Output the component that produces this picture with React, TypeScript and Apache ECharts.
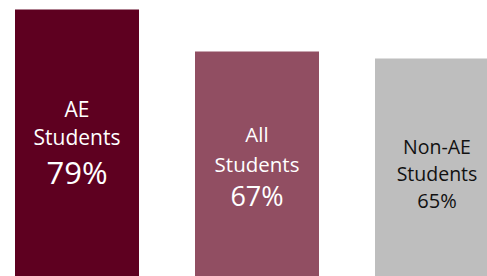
import React, { useEffect, useRef } from "react";
import * as echarts from "echarts";

const categories = ["AE\nStudents", "All\nStudents", "Non-AE\nStudents"];
const values = [79, 67, 65];
const barColors = ["#5E0020", "#914E62", "#BEBEBE"];
const textColors = ["#FFFFFF", "#FFFFFF", "#111111"];

// per-bar label styling
const labelStyles = [
  { nameSize: 21, nameLH: 28, valSize: 31, valLH: 42, offsetY: 134 },
  { nameSize: 20.5, nameLH: 30, valSize: 27, valLH: 33, offsetY: 114 },
  { nameSize: 19.5, nameLH: 27, valSize: 20, valLH: 28, offsetY: 115 },
];

export default function App() {
  const ref = useRef<HTMLDivElement>(null);
  useEffect(() => {
    if (!ref.current) return;
    const chart = echarts.init(ref.current, null, { renderer: "svg" });
    const font = "'Open Sans', sans-serif";
    const data = values.map((v, i) => {
      const s = labelStyles[i];
      return {
        value: v,
        itemStyle: { color: barColors[i] },
        label: {
          show: true,
          position: [62, s.offsetY],
          align: "center",
          verticalAlign: "middle",
          formatter: () =>
            categories[i]
              .split("\n")
              .map((l) => `{n|${l}}`)
              .join("\n") + `\n{v|${v}%}`,
          rich: {
            n: {
              fontFamily: font,
              fontSize: s.nameSize,
              lineHeight: s.nameLH,
              color: textColors[i],
              align: "center",
            },
            v: {
              fontFamily: font,
              fontSize: s.valSize,
              lineHeight: s.valLH,
              color: textColors[i],
              align: "center",
            },
          },
        },
      };
    });
    chart.setOption({
      animation: false,
      grid: { left: 0, right: 0, top: 6, bottom: 0, containLabel: false },
      xAxis: {
        type: "category",
        data: categories,
        show: false,
      },
      yAxis: { type: "value", min: 0, max: 80, show: false },
      series: [
        {
          type: "bar",
          data,
          barWidth: 124,
          silent: true,
        },
      ],
    });
    return () => chart.dispose();
  }, []);
  return (
    <div style={{ position: "fixed", left: 0, top: 0, width: 487, height: 276, overflow: "hidden", background: "#fff" }}>
      <div
        ref={ref}
        style={{ position: "absolute", left: -13, top: 0, width: 540, height: 286 }}
      />
    </div>
  );
}
